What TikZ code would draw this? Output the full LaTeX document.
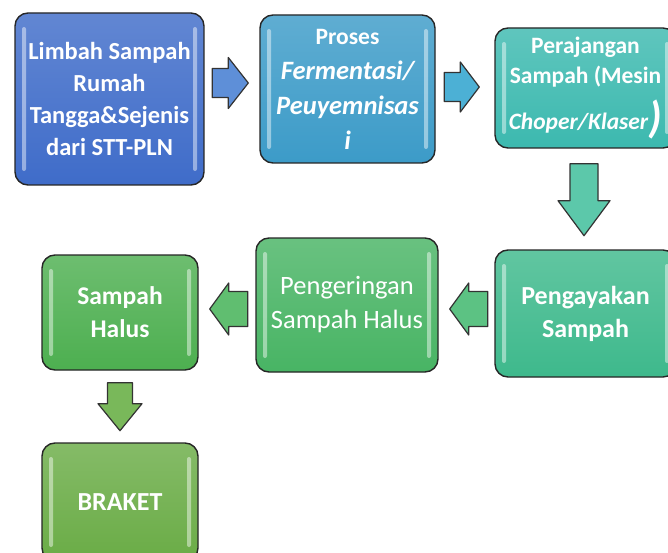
\documentclass[tikz,border=0pt]{standalone}
\usepackage{fontspec}
\setmainfont{Carlito}
\definecolor{cA}{HTML}{3F6CC9}
\definecolor{cB}{HTML}{3C9BC8}
\definecolor{cC}{HTML}{3CB9AF}
\definecolor{cD}{HTML}{3EB98C}
\definecolor{cE}{HTML}{48B464}
\definecolor{cF}{HTML}{4DAF50}
\definecolor{cG}{HTML}{6AAC46}
\definecolor{aA}{HTML}{5E8FD8}
\definecolor{aB}{HTML}{4CB0D5}
\definecolor{aC}{HTML}{5CC8AA}
\definecolor{aD}{HTML}{5CC283}
\definecolor{aE}{HTML}{60BE70}
\definecolor{aF}{HTML}{79B85A}
\tikzset{
  procbox/.style={draw=black!85, line width=1.4pt, rounded corners=13pt,
    top color=#1!82!white, bottom color=#1, text=white, align=center,
    inner sep=0pt, font=\bfseries,
    path picture={
      \fill[white,opacity=.45,rounded corners=2pt]
        ([shift={(7,-14)}]path picture bounding box.north west) rectangle
        ([shift={(11,14)}]path picture bounding box.south west);
      \fill[white,opacity=.45,rounded corners=2pt]
        ([shift={(-11,-14)}]path picture bounding box.north east) rectangle
        ([shift={(-7,14)}]path picture bounding box.south east);
    }},
  blockarrow/.style={draw=black!80, line width=1.2pt, fill=#1, line join=round}
}
% #1 tip coordinate, #2 rotation, #3 length, #4 total width, #5 shaft width, #6 head length, #7 colour
\newcommand{\BlockArr}[7]{%
  \draw[blockarrow=#7, shift={#1}, rotate=#2]
    (-#3,#5/2) -- (-#6,#5/2) -- (-#6,#4/2) -- (0,0) -- (-#6,-#4/2)
    -- (-#6,-#5/2) -- (-#3,-#5/2) -- cycle;}
\begin{document}
\begin{tikzpicture}[x=1pt,y=1pt]
\useasboundingbox (0,0) rectangle (668,-553);
\clip (0,0) rectangle (668,-553);
\fill[white] (0,0) rectangle (668,-553);

\node[procbox=cA, minimum width=189, minimum height=172,
  font=\bfseries\fontsize{24.5}{32}\selectfont] (b1) at (109.5,-99)
  {Limbah Sampah\\Rumah\\Tangga\&Sejenis\\dari STT-PLN};

\node[procbox=cB, minimum width=175, minimum height=148,
  font=\bfseries\itshape\fontsize{26.5}{35}\selectfont] (b2) at (347.5,-89)
  {{\upshape\fontsize{23.5}{35}\selectfont Proses}\\Fermentasi/\\Peuyemnisas\\i};

\node[procbox=cC, minimum width=181, minimum height=120,
  font=\bfseries\fontsize{23.5}{30}\selectfont] (b3) at (585.5,-88)
  {Perajangan\\Sampah (Mesin\\[12pt]\textit{Choper/Klaser}{\fontsize{44}{30}\selectfont\itshape\raisebox{-3pt}{)}}};

\node[procbox=cD, minimum width=181, minimum height=127,
  font=\bfseries\fontsize{26}{33}\selectfont] (b4) at (585.5,-313.5)
  {Pengayakan\\Sampah};

\node[procbox=cE, minimum width=182, minimum height=134,
  font=\mdseries\fontsize{26.5}{34}\selectfont] (b5) at (347,-305)
  {Pengeringan\\Sampah Halus};

\node[procbox=cF, minimum width=156, minimum height=115,
  font=\bfseries\fontsize{25.5}{33}\selectfont] (b6) at (120,-312.5)
  {Sampah\\Halus};

\node[procbox=cG, minimum width=156, minimum height=118,
  font=\bfseries\fontsize{26}{33}\selectfont] (b7) at (120,-502)
  {BRAKET};

% block arrows (connectors), tips placed relative to the boxes
\coordinate (t1) at ([xshift=-11pt,yshift=6pt]b2.west);
\coordinate (t2) at ([xshift=-15pt,yshift=1pt]b3.west);
\coordinate (t3) at ([xshift=-1.5pt,yshift=-87pt]b3.south);
\coordinate (t4) at ([xshift=11pt,yshift=-4pt]b5.east);
\coordinate (t5) at ([xshift=11pt,yshift=3.5pt]b6.east);
\coordinate (t6) at ([yshift=-60pt]b6.south);
\BlockArr{(t1)}{0}{36}{51}{29}{20}{aA}
\BlockArr{(t2)}{0}{35}{50}{29}{19}{aB}
\BlockArr{(t3)}{-90}{72}{52}{28}{35}{aC}
\BlockArr{(t4)}{180}{38}{52}{35}{19}{aD}
\BlockArr{(t5)}{180}{38}{52}{35}{19}{aE}
\BlockArr{(t6)}{-90}{48}{44}{25}{27}{aF}
\end{tikzpicture}
\end{document}
